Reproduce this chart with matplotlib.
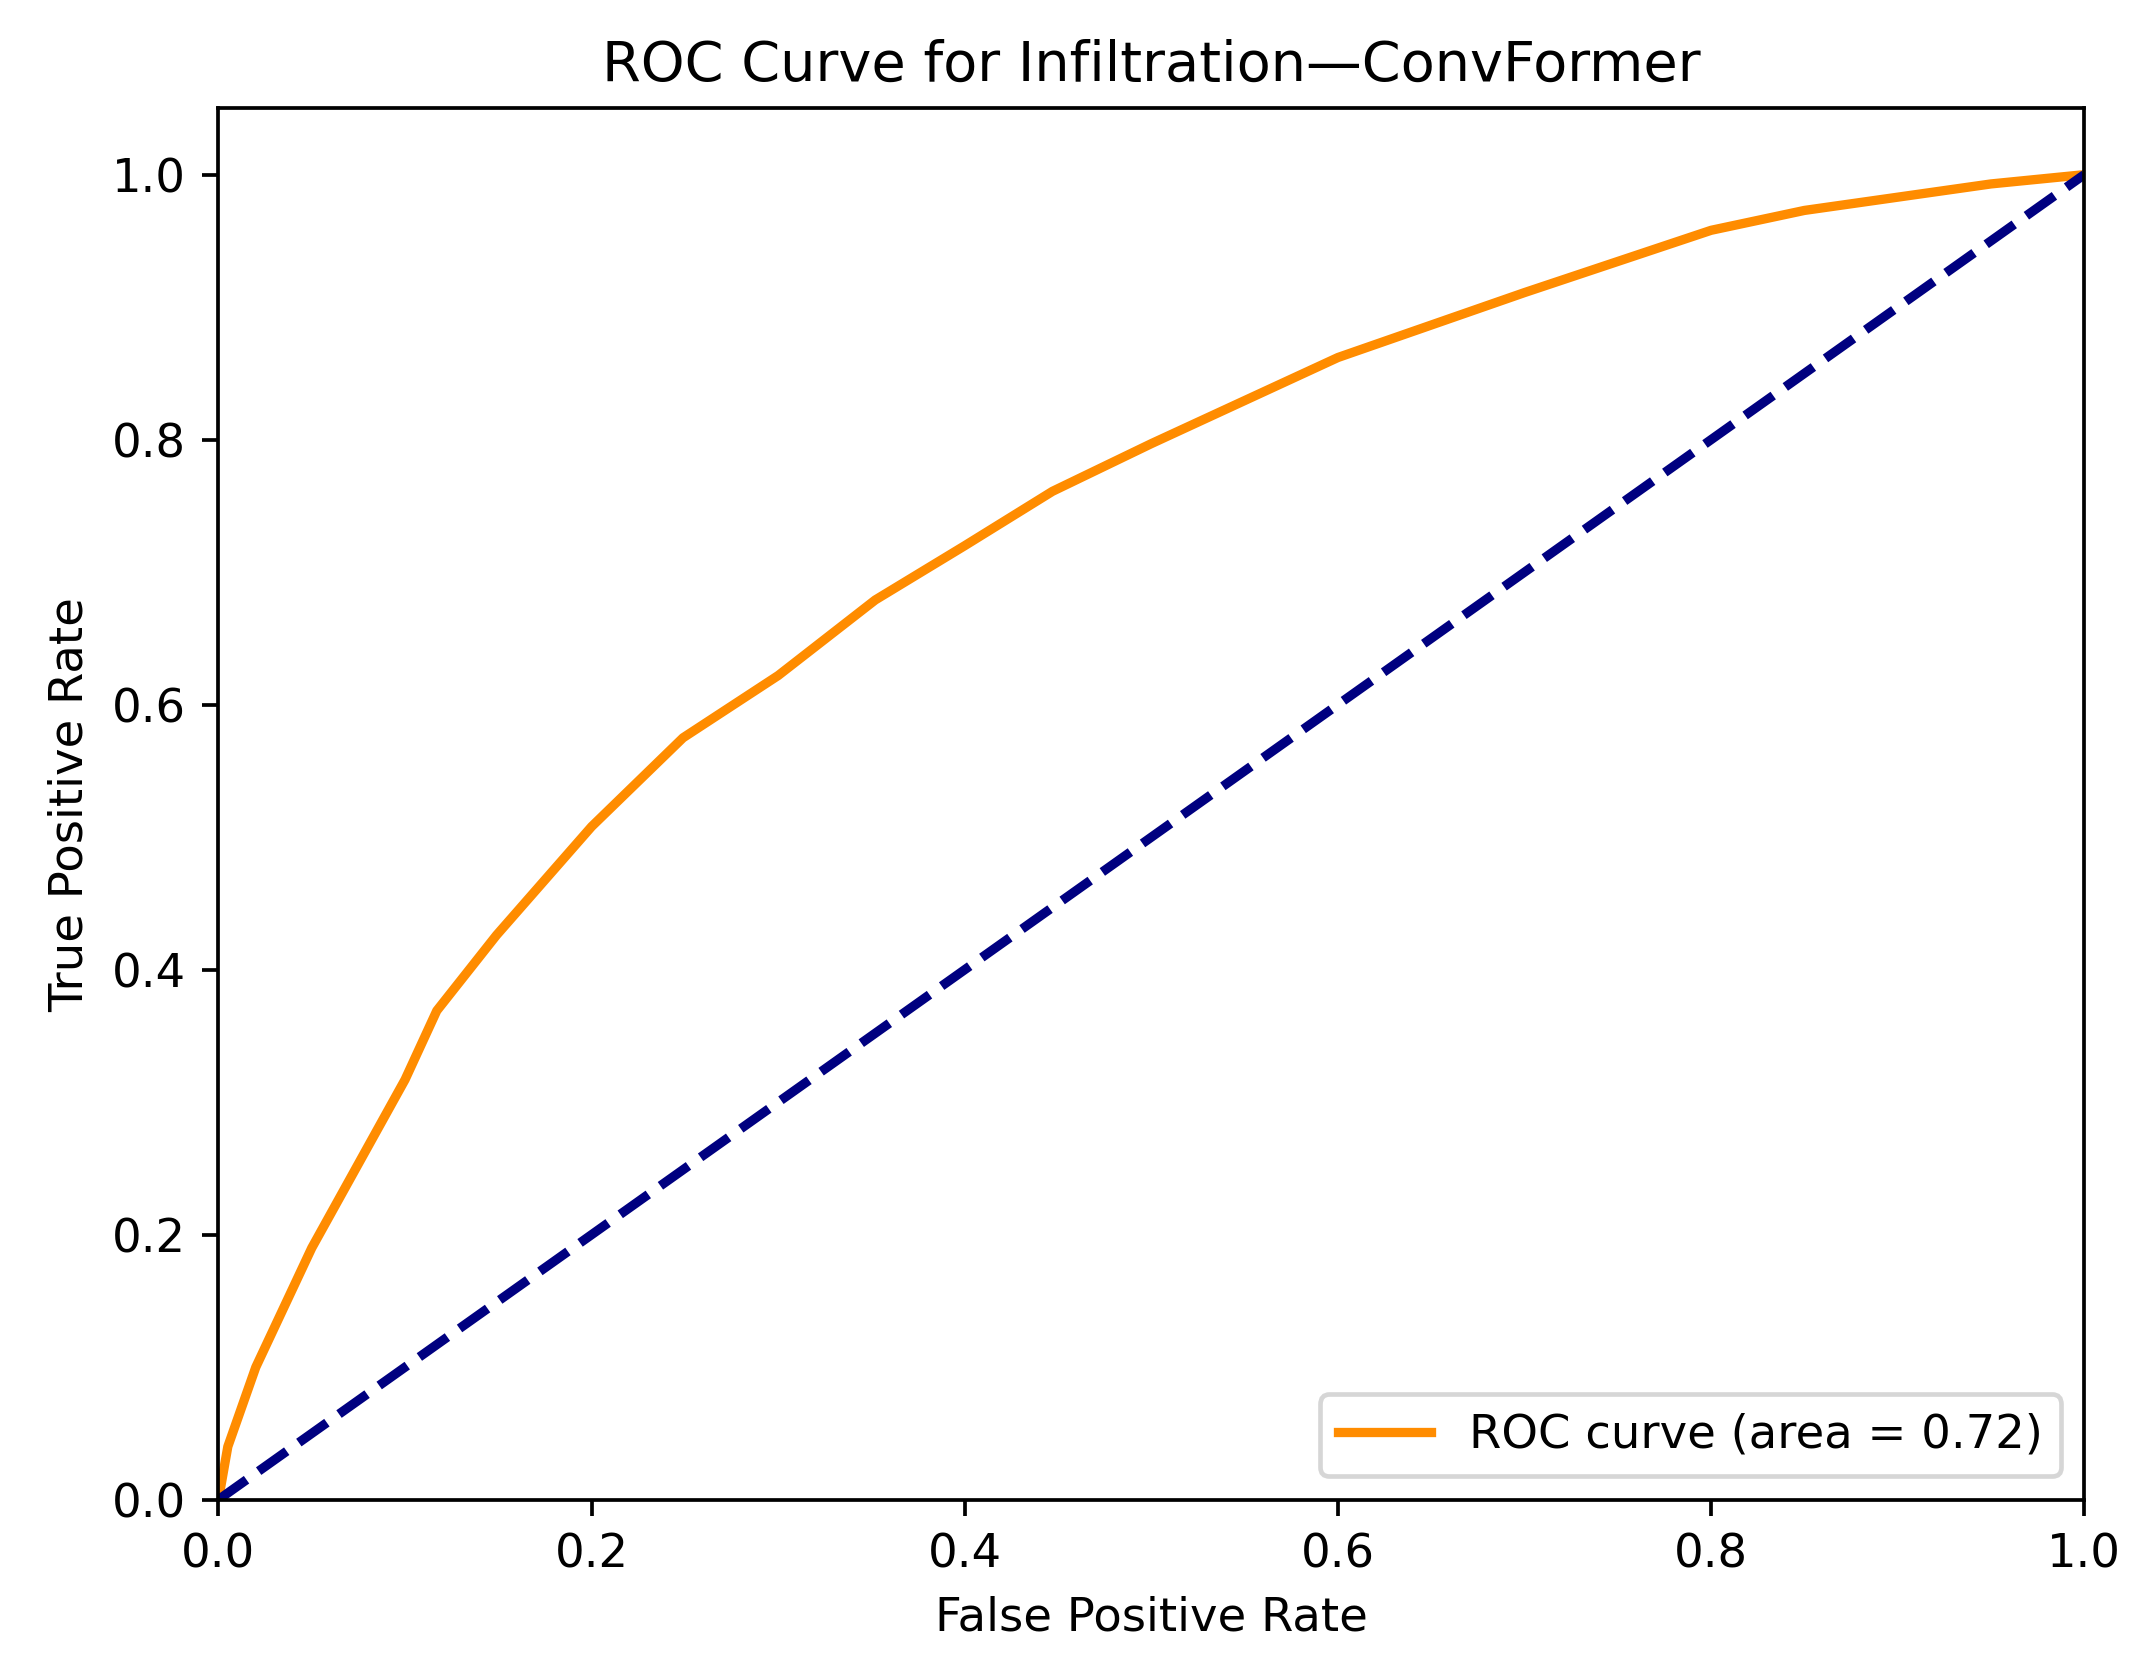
import matplotlib
matplotlib.use("Agg")
import matplotlib.pyplot as plt

fpr = [0.0, 0.005, 0.02, 0.05, 0.1, 0.117, 0.149, 0.2, 0.249, 0.3, 0.352, 0.4, 0.447, 0.5, 0.6, 0.7, 0.8, 0.85, 0.9, 0.95, 1.0]
tpr = [0.0, 0.04, 0.1, 0.19, 0.317, 0.369, 0.426, 0.508, 0.575, 0.622, 0.679, 0.72, 0.761, 0.797, 0.862, 0.911, 0.958, 0.973, 0.983, 0.993, 1.0]
auc = 0.72

fig = plt.figure(figsize=(6.4, 4.99), dpi=334.7)
ax = fig.add_axes([0.102, 0.102, 0.871, 0.833])
ax.plot(fpr, tpr, color="darkorange", lw=2, label=f"ROC curve (area = {auc:.2f})")
ax.plot([0, 1], [0, 1], color="navy", lw=2, linestyle="--")
ax.set_xlim(0.0, 1.0)
ax.set_ylim(0.0, 1.05)
ax.set_xlabel("False Positive Rate")
ax.set_ylabel("True Positive Rate")
ax.set_title("ROC Curve for Infiltration—ConvFormer")
ax.legend(loc="lower right")
fig.savefig("out.png")
